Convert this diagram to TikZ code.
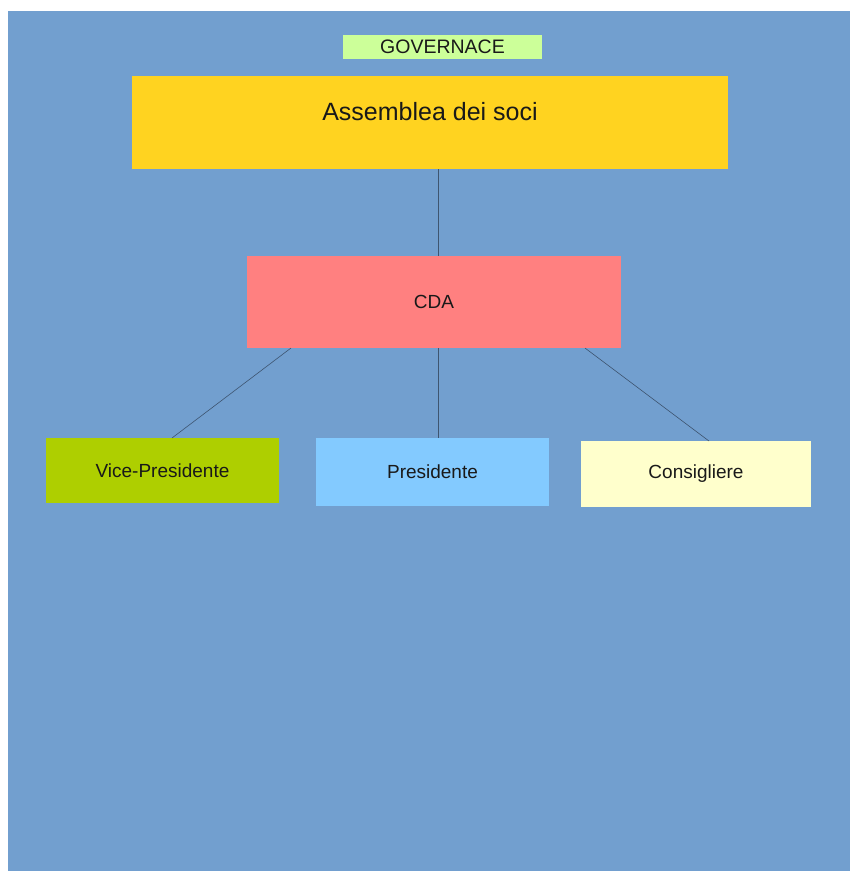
\documentclass[tikz,border=0pt]{standalone}
\usepackage{fontspec}
\setmainfont{Liberation Sans}
\usetikzlibrary{positioning}

\definecolor{bgblue}{HTML}{729FCF}
\definecolor{govgreen}{HTML}{CCFF99}
\definecolor{assyellow}{HTML}{FFD320}
\definecolor{cdared}{HTML}{FF8080}
\definecolor{vpgreen}{HTML}{AECF00}
\definecolor{preblue}{HTML}{83CAFF}
\definecolor{conyellow}{HTML}{FFFFCC}
\definecolor{linkgray}{RGB}{62,85,112}

\begin{document}
\begin{tikzpicture}[x=1pt, y=-1pt,
  box/.style={inner sep=0pt, outer sep=0pt, align=center, text=black!90},
  role/.style={box, minimum width=233pt, font=\fontsize{19}{22}\selectfont},
  link/.style={draw=linkgray, line width=0.6pt}
]
% page and background
\useasboundingbox (0,0) rectangle (850,871);
\fill[white] (0,0) rectangle (850,871);
\fill[bgblue] (8,11) rectangle (850,871);

% title and top levels
\node[box, fill=govgreen, minimum width=199pt, minimum height=24pt, font=\fontsize{19.5}{21}\selectfont] (gov) at (442.5,47) {GOVERNACE};
\node[box, fill=assyellow, minimum width=596pt, minimum height=93pt] (assemblea) at (430,122.5) {};
\node[font=\fontsize{25}{28}\selectfont, text=black!90, inner sep=0pt] (asstext) at (430,112) {Assemblea dei soci};
\node[box, fill=cdared, minimum width=374pt, minimum height=92pt, font=\fontsize{19}{22}\selectfont] (cda) at (434,302) {CDA};

% the three roles under the board
\node[role, fill=vpgreen, minimum height=65pt] (vp) at (162.5,470.5) {Vice-Presidente};
\node[role, fill=preblue, minimum height=68pt] (pres) at (432.5,472) {Presidente};
\node[role, fill=conyellow, minimum width=230pt, minimum height=66pt] (cons) at (696,474) {Consigliere};

\draw[link] ([xshift=8pt]assemblea.south) -- ([xshift=4pt]cda.north);
\draw[link] ([xshift=44pt]cda.south west) -- ([xshift=9.5pt]vp.north);
\draw[link] ([xshift=4pt]cda.south) -- ([xshift=5.5pt]pres.north);
\draw[link] ([xshift=-36pt]cda.south east) -- ([xshift=13pt]cons.north);
\end{tikzpicture}
\end{document}
